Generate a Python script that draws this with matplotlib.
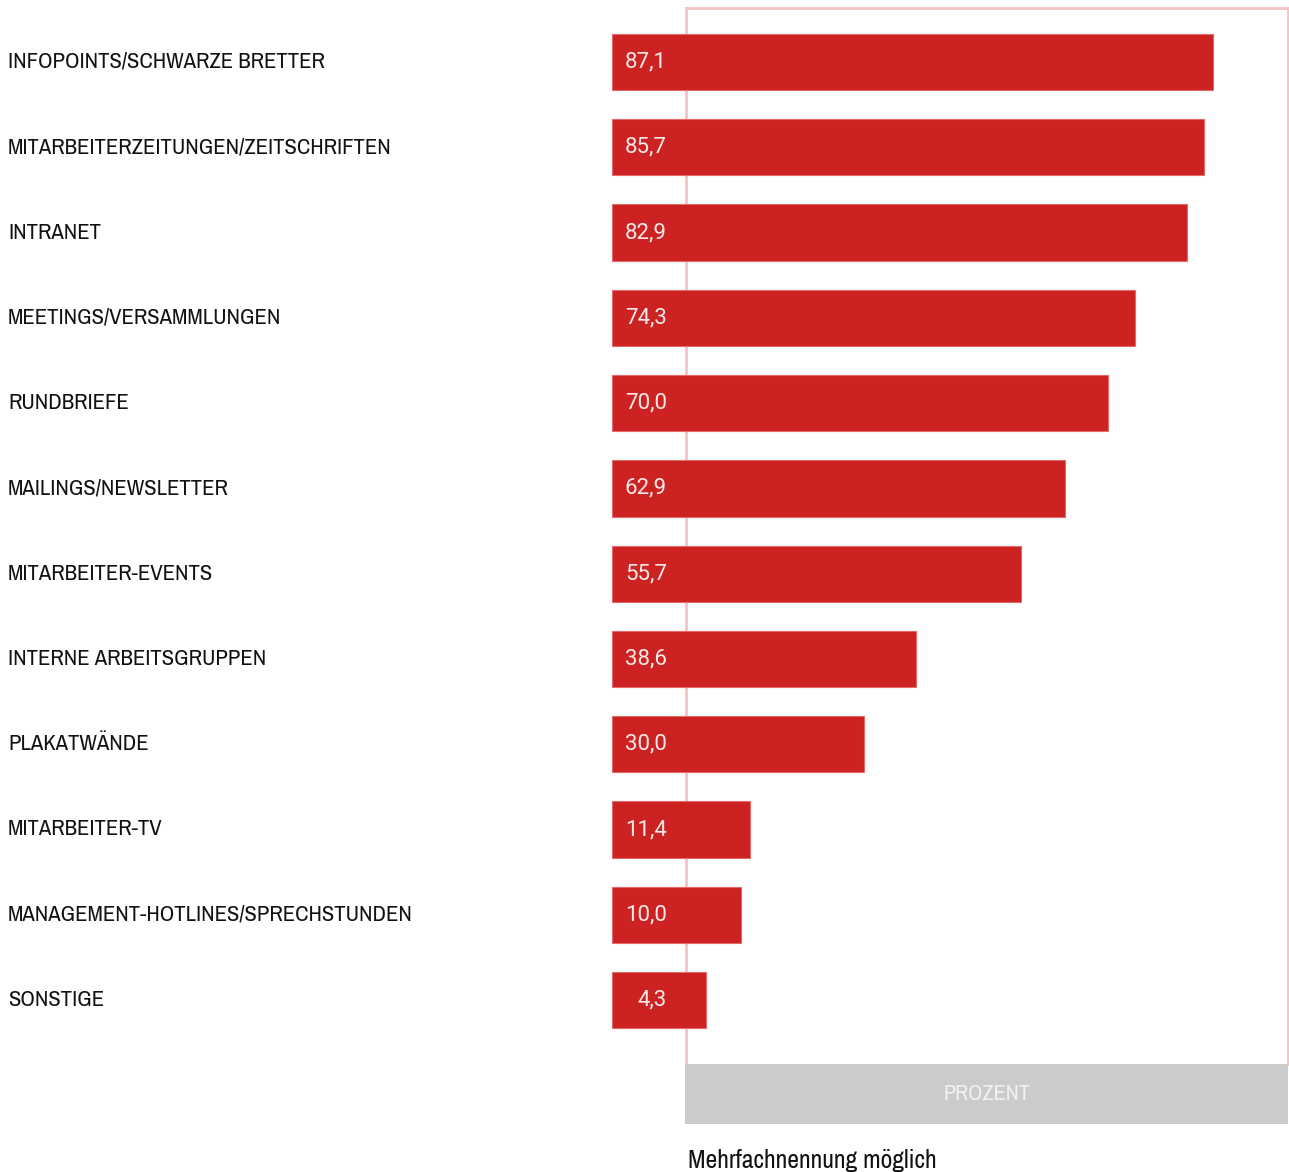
import matplotlib
matplotlib.use("Agg")
import matplotlib.pyplot as plt
from matplotlib.patches import Rectangle
from matplotlib import transforms

# Kanäle der internen Kommunikation, Anteil in Prozent (Mehrfachnennung möglich)
categories = [
    "INFOPOINTS/SCHWARZE BRETTER",
    "MITARBEITERZEITUNGEN/ZEITSCHRIFTEN",
    "INTRANET",
    "MEETINGS/VERSAMMLUNGEN",
    "RUNDBRIEFE",
    "MAILINGS/NEWSLETTER",
    "MITARBEITER-EVENTS",
    "INTERNE ARBEITSGRUPPEN",
    "PLAKATWÄNDE",
    "MITARBEITER-TV",
    "MANAGEMENT-HOTLINES/SPRECHSTUNDEN",
    "SONSTIGE",
]
values = [87.1, 85.7, 82.9, 74.3, 70.0, 62.9, 55.7, 38.6, 30.0, 11.4, 10.0, 4.3]
axis_label = "PROZENT"
footnote = "Mehrfachnennung möglich"

W, H = 1289, 1172
DPI = 100
RED = "#CC2222"
PINK = "#F4C4C4"
GREY = "#CBCBCB"
NARROW = ["Archivo Narrow", "DejaVu Sans"]

fig = plt.figure(figsize=(W / DPI, H / DPI), dpi=DPI)
fig.patch.set_facecolor("white")


def fx(px):
    return px / W


def fy(py):
    return 1 - py / H


# pink frame around the value area
frame = fig.add_axes([fx(686), fy(1064), fx(1288) - fx(686), fy(8) - fy(1064)])
frame.set_xticks([])
frame.set_yticks([])
frame.patch.set_alpha(0)
for side in ("top", "left", "right"):
    frame.spines[side].set_color(PINK)
    frame.spines[side].set_linewidth(2)
frame.spines["bottom"].set_visible(False)
frame.set_zorder(0)

# bar axes: bars extend a fixed amount to the left of zero to hold the value label
lead = 11.1
scale = 6.12  # pixels per percent
x_right = (1288 - 612) / scale - lead
ax = fig.add_axes([fx(612), fy(1064), fx(1288) - fx(612), fy(8) - fy(1064)])
ax.set_zorder(1)
ax.patch.set_alpha(0)
ypos = list(range(len(values)))
ax.barh(ypos, [v + lead for v in values], left=-lead, height=0.66,
        color=RED, edgecolor="#E46A6A", linewidth=0.8)
ax.set_xlim(-lead, x_right)
ax.set_ylim(11.75, -0.633)
ax.axis("off")

label_x = (667 - 680) / scale
for y, v in zip(ypos, values):
    ax.text(label_x, y, f"{v:.1f}".replace(".", ","), ha="right", va="center",
            fontsize=16, family=["Roboto", "DejaVu Sans"], color="#F8EAEA")

# category names on the left edge
blend = transforms.blended_transform_factory(fig.transFigure, ax.transData)
for y, name in zip(ypos, categories):
    ax.text(fx(8), y, name, transform=blend, ha="left", va="center",
            fontsize=16.3, family=NARROW, color="#111111")

# grey axis band with unit label
fig.patches.append(Rectangle((fx(685), fy(1124)), fx(1288) - fx(685), fy(1064) - fy(1124),
                             transform=fig.transFigure, facecolor=GREY, edgecolor="none"))
fig.text(fx(987), fy(1094), axis_label, ha="center", va="center",
         fontsize=16, family=NARROW, color="#F2F2F2")

fig.text(fx(688), fy(1168), footnote, ha="left", va="baseline",
         fontsize=18.5, family=NARROW, color="#111111")

fig.savefig("out.png", dpi=DPI)
